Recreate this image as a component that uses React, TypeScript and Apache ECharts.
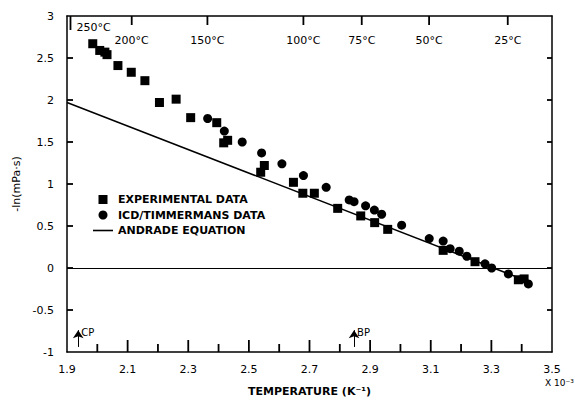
import React, { useEffect, useRef } from "react";
import * as echarts from "echarts";

// Experimental data (squares): 1/T (x10^-3 K^-1) and -ln(viscosity / mPa·s)
const expX = [1.985, 2.008, 2.025, 2.032, 2.068, 2.112, 2.157, 2.205, 2.26, 2.308, 2.394, 2.417, 2.43, 2.539, 2.551, 2.647, 2.678, 2.716, 2.793, 2.869, 2.915, 2.958, 3.141, 3.246, 3.389, 3.408];
const expY = [2.67, 2.59, 2.57, 2.54, 2.41, 2.33, 2.23, 1.97, 2.01, 1.79, 1.73, 1.49, 1.52, 1.14, 1.22, 1.02, 0.89, 0.89, 0.71, 0.62, 0.54, 0.46, 0.21, 0.075, -0.14, -0.13];

// ICD/Timmermans data (circles)
const icdX = [2.364, 2.419, 2.478, 2.542, 2.609, 2.68, 2.755, 2.831, 2.847, 2.885, 2.914, 2.938, 3.004, 3.095, 3.141, 3.164, 3.194, 3.219, 3.279, 3.301, 3.356, 3.422];
const icdY = [1.78, 1.63, 1.5, 1.37, 1.24, 1.1, 0.96, 0.81, 0.79, 0.74, 0.69, 0.64, 0.51, 0.35, 0.32, 0.23, 0.2, 0.14, 0.05, 0.0, -0.07, -0.19];

// Andrade equation (straight line in 1/T)
const andradeX = [1.9, 3.4];
const andradeY = [1.97, -0.13];

// Top axis temperatures (°C)
const topTempsC = [250, 200, 150, 100, 75, 50, 25];

// Bottom axis labels and ticks
const xLabelValues = [1.9, 2.1, 2.3, 2.5, 2.7, 2.9, 3.1, 3.3, 3.5];
const xMinorTicks = [2.0, 2.2, 2.4, 2.6, 2.8, 3.0, 3.2, 3.4];
const yTickValues = [-1, -0.5, 0, 0.5, 1, 1.5, 2, 2.5, 3];

// Markers: critical point and boiling point
const markerNames = ["CP", "BP"];
const markerX = [1.937, 2.847];

const FONT = "DejaVu Sans";
const X_MIN = 1.9;
const X_MAX = 3.5;
const Y_MIN = -1;
const Y_MAX = 3;

export default function App() {
  const ref = useRef<HTMLDivElement>(null);

  useEffect(() => {
    if (!ref.current) return;
    const chart = echarts.init(ref.current, undefined, { renderer: "svg" });

    const topPos = topTempsC.map((t) => 1000 / (t + 273.15));
    const zip = (xs: number[], ys: number[]) => xs.map((x, i) => [x, ys[i]]);
    const W = 1.8;

    const exponentText = {
      type: "text",
      left: 545,
      top: 378,
      style: { text: "X 10⁻³", font: `9px "${FONT}"`, fill: "#000" },
    };

    const axisCommon = {
      type: "value",
      splitLine: { show: false },
      axisTick: { show: false },
    };

    const option: any = {
      animation: false,
      backgroundColor: "#fff",
      textStyle: { fontFamily: FONT, color: "#000" },
      grid: { left: 67, right: 23, top: 16, bottom: 48, outerBoundsMode: "none", containLabel: false },
      legend: {
        orient: "vertical",
        left: 88,
        top: 189,
        itemWidth: 20,
        itemHeight: 9,
        itemGap: 4.5,
        selectedMode: false,
        textStyle: { fontFamily: FONT, fontSize: 11, fontWeight: "bold", color: "#000" },
        data: [
          { name: "EXPERIMENTAL DATA", icon: "path://M0,0H10V10H0Z" },
          { name: "ICD/TIMMERMANS DATA", icon: "circle" },
          { name: "ANDRADE EQUATION", icon: "path://M0,0H20V1.6H0Z" },
        ],
      },
      graphic: [exponentText],
      xAxis: [
        {
          ...axisCommon,
          position: "bottom",
          min: X_MIN,
          max: X_MAX,
          axisLine: { show: true, onZero: false, lineStyle: { color: "#000", width: 1.5 } },
          axisLabel: {
            show: true,
            margin: 12,
            color: "#000",
            fontFamily: FONT,
            fontSize: 11,
            customValues: xLabelValues,
            formatter: (v: number) => v.toFixed(1),
          },
          name: "TEMPERATURE (K⁻¹)",
          nameLocation: "middle",
          nameGap: 34,
          nameTextStyle: { fontFamily: FONT, fontSize: 11, fontWeight: "bold", color: "#000" },
        },
        {
          ...axisCommon,
          position: "top",
          min: X_MIN,
          max: X_MAX,
          axisLine: { show: true, onZero: false, lineStyle: { color: "#000", width: 1.5 } },
          axisLabel: {
            show: true,
            inside: true,
            margin: 6,
            customValues: topPos,
            color: "#000",
            fontFamily: FONT,
            fontSize: 11,
            formatter: (v: number) => {
              let best = topTempsC[0];
              let bd = Infinity;
              topTempsC.forEach((t) => {
                const d = Math.abs(1000 / (t + 273.15) - v);
                if (d < bd) {
                  bd = d;
                  best = t;
                }
              });
              return best === 250 ? `{hi|${best}°C}` : `{lo|${best}°C}`;
            },
            rich: {
              hi: { padding: [0, 0, 0, 46], fontFamily: FONT, fontSize: 11, color: "#000" },
              lo: { padding: [13, 0, 0, 0], fontFamily: FONT, fontSize: 11, color: "#000" },
            },
          },
        },
      ],
      yAxis: [
        {
          ...axisCommon,
          position: "left",
          min: Y_MIN,
          max: Y_MAX,
          interval: 0.5,
          axisLine: { show: true, onZero: false, lineStyle: { color: "#000", width: 1.5 } },
          axisLabel: { show: true, margin: 13, color: "#000", fontFamily: FONT, fontSize: 11 },
          name: "-ln(mPa·s)",
          nameLocation: "middle",
          nameGap: 45,
          nameRotate: 90,
          nameTextStyle: { fontFamily: FONT, fontSize: 11, color: "#000" },
        },
        {
          ...axisCommon,
          position: "right",
          min: Y_MIN,
          max: Y_MAX,
          interval: 0.5,
          axisLine: { show: true, onZero: false, lineStyle: { color: "#000", width: 1.5 } },
          axisLabel: { show: false },
        },
      ],
      series: [
        {
          name: "ANDRADE EQUATION",
          type: "line",
          xAxisIndex: 0,
          yAxisIndex: 0,
          data: zip(andradeX, andradeY),
          symbol: "none",
          z: 1,
          lineStyle: { color: "#000", width: 1.5 },
          itemStyle: { color: "#000" },
          markLine: {
            silent: true,
            symbol: ["none", "arrow"],
            symbolSize: 8,
            lineStyle: { color: "#000", width: 1, type: "solid" },
            itemStyle: { color: "#000" },
            label: { show: false },
            data: markerX.map((x) => [
              { coord: [x, -0.94] },
              { coord: [x, -0.74] },
            ]),
          },
          markPoint: {
            silent: true,
            symbol: "circle",
            symbolSize: 0,
            label: {
              show: true,
              position: "right",
              distance: 3,
              fontFamily: FONT,
              fontSize: 10,
              color: "#000",
              formatter: (p: any) => p.name,
            },
            data: markerNames.map((n, i) => ({ name: n, coord: [markerX[i], -0.765] })),
          },
        },
        {
          name: "EXPERIMENTAL DATA",
          type: "scatter",
          xAxisIndex: 0,
          yAxisIndex: 0,
          symbol: "rect",
          symbolSize: 9,
          z: 3,
          itemStyle: { color: "#000", opacity: 1 },
          data: zip(expX, expY),
        },
        {
          name: "ICD/TIMMERMANS DATA",
          type: "scatter",
          xAxisIndex: 0,
          yAxisIndex: 0,
          symbol: "circle",
          symbolSize: 9,
          z: 3,
          itemStyle: { color: "#000", opacity: 1 },
          data: zip(icdX, icdY),
          markLine: {
            silent: true,
            symbol: "none",
            lineStyle: { color: "#000", width: 1.2, type: "solid" },
            label: { show: false },
            data: [{ yAxis: 0 }],
          },
        },
      ],
    };

    chart.setOption(option);

    // Tick marks: positions come from the chart's own scales (convertToPixel).
    const toPx = (x: number, y: number) =>
      chart.convertToPixel({ xAxisIndex: 0, yAxisIndex: 0 }, [x, y]) as number[];
    const tickRects: any[] = [];
    const vTick = (x: number, y: number, len: number, up: boolean) => {
      const p = toPx(x, y);
      tickRects.push({
        type: "rect",
        silent: true,
        z: 100,
        shape: { x: p[0] - W / 2, y: up ? p[1] - len : p[1], width: W, height: len },
        style: { fill: "#000" },
      });
    };
    const hTick = (x: number, y: number, len: number, right: boolean) => {
      const p = toPx(x, y);
      tickRects.push({
        type: "rect",
        silent: true,
        z: 100,
        shape: { x: right ? p[0] : p[0] - len, y: p[1] - W / 2, width: len, height: W },
        style: { fill: "#000" },
      });
    };
    xLabelValues.slice(1, -1).forEach((v) => vTick(v, Y_MIN, 12, true));
    xMinorTicks.forEach((v) => vTick(v, Y_MIN, 8, true));
    topPos.forEach((v, i) => vTick(v, Y_MAX, topTempsC[i] === 250 ? 14 : 9, false));
    yTickValues.slice(1, -1).forEach((v) => hTick(X_MIN, v, 6, true));
    yTickValues.slice(1, -1).forEach((v) => hTick(X_MAX, v, 5, false));

    chart.setOption({ graphic: [exponentText, ...tickRects] });

    return () => chart.dispose();
  }, []);

  return (
    <div
      ref={ref}
      style={{ position: "fixed", left: 0, top: 0, width: 575, height: 400, background: "#fff" }}
    />
  );
}
